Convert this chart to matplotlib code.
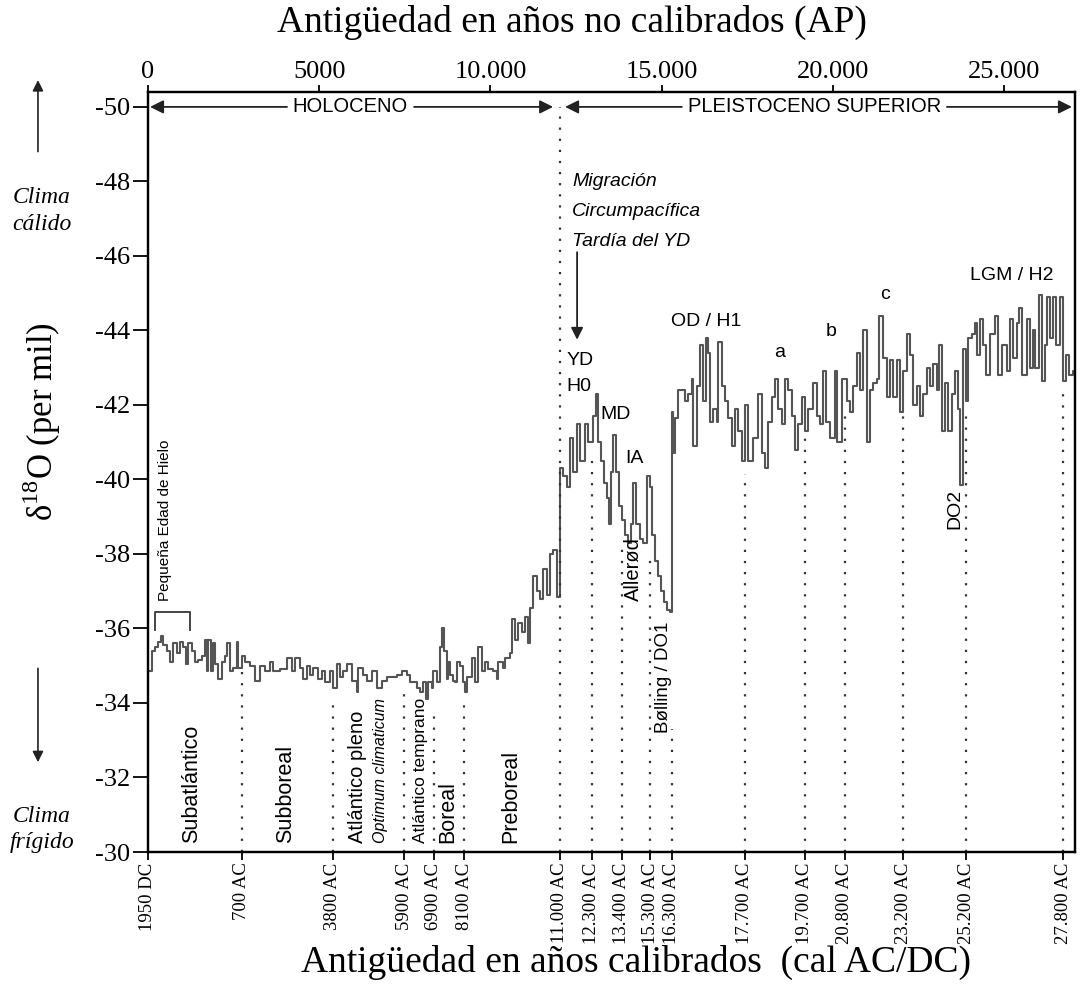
import matplotlib.pyplot as plt
from matplotlib import transforms

plt.rcParams['font.family'] = ['Liberation Serif', 'DejaVu Serif']
plt.rcParams['mathtext.fontset'] = 'custom'
plt.rcParams['mathtext.rm'] = 'Liberation Serif'
SANS = ['Liberation Sans', 'DejaVu Sans']

# serie d18O frente a edad en años no calibrados (AP)
age_ap = [0, 110, 200, 300, 370, 450, 550, 640, 740, 840, 930, 1030, 1100, 1180, 1280,
          1370, 1470, 1570, 1660, 1710, 1760, 1830, 1890, 1960, 2050, 2150, 2250, 2320,
          2390, 2490, 2590, 2640, 2740, 2830, 2980, 3120, 3270, 3420, 3560, 3660, 3850,
          4050, 4200, 4290, 4440, 4530, 4630, 4730, 4830, 4970, 5070, 5170, 5310, 5410,
          5510, 5610, 5700, 5800, 5950, 6090, 6140, 6290, 6390, 6530, 6680, 6820, 6970,
          7120, 7260, 7410, 7550, 7650, 7750, 7850, 7940, 8040, 8110, 8180, 8280, 8320,
          8440, 8530, 8580, 8640, 8730, 8760, 8820, 8910, 8960, 9020, 9110, 9200, 9260,
          9310, 9460, 9550, 9640, 9750, 9840, 9930, 10070, 10190, 10220, 10370, 10420,
          10570, 10630, 10720, 10800, 10920, 11010, 11100, 11150, 11240, 11360, 11450,
          11530, 11650, 11740, 11830, 11940, 12030, 12120, 12230, 12320, 12410, 12530,
          12610, 12760, 12850, 12990, 13080, 13140, 13230, 13320, 13400, 13460, 13520,
          13580, 13670, 13750, 13840, 13930, 14020, 14100, 14160, 14250, 14370, 14450,
          14570, 14660, 14720, 14800, 14890, 14980, 15070, 15150, 15240, 15300, 15330,
          15390, 15480, 15680, 15770, 15880, 15910, 16030, 16120, 16210, 16290, 16350,
          16410, 16500, 16610, 16640, 16760, 16850, 16940, 17050, 17140, 17230, 17340,
          17430, 17520, 17670, 17810, 17930, 18020, 18100, 18220, 18310, 18400, 18510,
          18600, 18690, 18800, 18890, 18980, 19100, 19180, 19270, 19420, 19530, 19620,
          19710, 19800, 19910, 20060, 20120, 20260, 20410, 20500, 20590, 20700, 20790,
          20880, 21000, 21080, 21170, 21290, 21350, 21460, 21580, 21670, 21750, 21870,
          21960, 22050, 22160, 22250, 22340, 22450, 22540, 22630, 22750, 22830, 22920,
          23040, 23100, 23180, 23270, 23360, 23480, 23560, 23650, 23710, 23800, 23890,
          23940, 24060, 24150, 24210, 24290, 24380, 24470, 24590, 24730, 24820, 24940,
          25080, 25170, 25260, 25370, 25430, 25520, 25670, 25750, 25840, 25900, 26020,
          26100, 26190, 26250, 26340, 26430, 26510, 26630, 26720, 26810, 26890, 27010,
          27070]
d18o = [-34.85, -35.4, -35.5, -35.65, -35.8, -35.55, -35.4, -35.1, -35.6, -35.35, -35.65,
        -35.5, -35.05, -35.6, -35.4, -35.1, -35.15, -35.25, -35.7, -34.85, -35.7, -34.85,
        -35.6, -35.05, -34.65, -35.1, -35.25, -35.6, -34.85, -34.95, -35.65, -34.95,
        -35.25, -35.1, -35.0, -34.6, -35.0, -34.85, -35.1, -34.85, -34.9, -35.2, -34.85,
        -35.2, -34.95, -34.65, -35.0, -34.75, -34.95, -34.65, -34.85, -34.55, -34.85,
        -34.4, -35.05, -34.7, -34.85, -35.05, -34.6, -34.3, -34.95, -34.75, -34.6, -34.85,
        -34.4, -34.6, -34.7, -34.7, -34.75, -34.85, -34.75, -34.55, -34.55, -34.4, -34.3,
        -34.55, -34.1, -34.55, -34.4, -34.85, -34.55, -35.5, -36.0, -35.4, -34.65, -35.1,
        -34.75, -34.6, -34.55, -35.1, -35.0, -34.55, -34.3, -34.7, -35.2, -34.55, -35.5,
        -34.85, -35.1, -34.9, -34.85, -34.65, -35.1, -34.95, -35.2, -35.35, -36.25, -35.7,
        -36.15, -35.9, -36.3, -35.6, -36.55, -37.4, -37.0, -36.8, -37.6, -36.9, -38.0,
        -38.1, -36.85, -40.3, -40.1, -39.8, -41.1, -40.2, -41.5, -40.5, -41.5, -41.0,
        -41.7, -42.3, -41.0, -40.5, -39.9, -39.5, -38.8, -40.2, -41.2, -40.2, -39.3,
        -38.9, -38.5, -38.3, -38.8, -39.9, -38.8, -38.4, -38.3, -40.1, -39.8, -38.5,
        -37.8, -37.4, -37.0, -36.7, -36.5, -36.45, -41.8, -40.7, -41.65, -42.4, -42.1,
        -42.3, -42.7, -40.9, -42.5, -43.6, -42.1, -43.8, -43.4, -41.55, -41.9, -41.55,
        -43.7, -42.5, -42.1, -41.65, -40.9, -41.9, -41.3, -40.5, -42.0, -40.5, -41.1,
        -42.3, -40.7, -40.3, -41.55, -42.2, -42.7, -41.9, -41.5, -42.7, -42.4, -41.7,
        -40.8, -41.5, -42.2, -41.3, -41.9, -42.6, -41.7, -41.5, -42.9, -41.55, -41.1,
        -42.9, -41.0, -42.7, -42.1, -41.8, -42.5, -43.4, -42.4, -44.0, -41.0, -42.4,
        -42.6, -42.7, -44.4, -43.25, -42.2, -43.2, -42.2, -43.2, -41.8, -42.9, -43.9,
        -43.35, -42.0, -42.5, -41.7, -42.3, -43.0, -42.5, -43.1, -42.4, -43.6, -41.3,
        -42.6, -41.3, -42.3, -42.9, -41.9, -39.85, -43.5, -42.1, -43.8, -43.9, -44.2,
        -43.35, -44.3, -43.6, -42.8, -43.9, -44.4, -42.8, -43.6, -42.9, -44.3, -43.25,
        -44.2, -44.6, -42.8, -44.3, -43.0, -44.0, -43.0, -44.95, -42.65, -43.6, -44.9,
        -43.8, -44.9, -43.6, -44.9, -42.65, -43.35, -42.8, -42.9, -42.65]

# marcas en años calibrados (posición en años AP)
cal_pos = [0, 2740, 5400, 7480, 8350, 9230, 12030, 12960, 13840, 14660, 15300,
           17430, 19180, 20350, 22050, 23890, 26720]
cal_labels = ['1950 DC', '700 AC', '3800 AC', '5900 AC', '6900 AC', '8100 AC',
              '11.000 AC', '12.300 AC', '13.400 AC', '15.300 AC', '16.300 AC',
              '17.700 AC', '19.700 AC', '20.800 AC', '23.200 AC', '25.200 AC',
              '27.800 AC']
cal_line_top = [None, -34.85, -33.95, -34.28, -33.86, -33.95, -50.0, -40.5, -38.3,
                -38.0, -33.3, -40.15, -41.1, -41.7, -41.7, -41.7, -42.3]

ap_ticks = [0, 5000, 10000, 15000, 20000, 25000]
ap_labels = ['0', '5000', '10.000', '15.000', '20.000', '25.000']

y_ticks = [-50, -48, -46, -44, -42, -40, -38, -36, -34, -32, -30]

# periodos (texto vertical al pie)
periods = [('Subatlántico', 1260, 15.5, 'normal'), ('Subboreal', 4030, 15.5, 'normal'),
           ('Atlántico pleno', 6130, 14.5, 'normal'), ('Optimum climaticum', 6800, 11.5, 'italic'),
           ('Atlántico temprano', 7970, 12.5, 'normal'), ('Boreal', 8760, 15.5, 'normal'),
           ('Preboreal', 10600, 15.5, 'normal')]

# eventos (texto horizontal)
events = [('YD', 12230, -43.2), ('H0', 12230, -42.5), ('MD', 13200, -41.75),
          ('IA', 13930, -40.55), ('OD / H1', 16290, -44.25), ('a', 18430, -43.4),
          ('b', 19940, -43.97), ('c', 21520, -44.96), ('LGM / H2', 25230, -45.47)]

fig = plt.figure(figsize=(10.85, 9.86), dpi=100)
ax = fig.add_axes([0.1364, 0.1359, 0.8544, 0.7708])

ax.step(age_ap, d18o, where='post', color='#555555', lw=1.5)

ax.set_xlim(0, 27070)
ax.set_ylim(-30, -50.4)
ax.set_yticks(y_ticks)
ax.set_yticklabels([str(v) for v in y_ticks], fontsize=19)
ax.tick_params(axis='y', direction='out', length=11, width=1.3, pad=2)
ax.set_xticks(cal_pos)
ax.set_xticklabels(cal_labels, rotation=90, fontsize=13.5)
ax.tick_params(axis='x', direction='out', length=6, width=1.3, pad=1.5)
for s in ax.spines.values():
    s.set_linewidth(1.6)

ax2 = ax.twiny()
ax2.set_xlim(ax.get_xlim())
ax2.set_xticks(ap_ticks)
ax2.set_xticklabels(ap_labels, fontsize=19)
ax2.tick_params(axis='x', direction='out', length=5, width=1.3, pad=1.5)
for s in ax2.spines.values():
    s.set_linewidth(1.6)

fig.text(572 / 1085, 1 - 22 / 986, 'Antigüedad en años no calibrados (AP)',
         ha='center', va='center', fontsize=27)
fig.text(636 / 1085, 1 - 962 / 986, 'Antigüedad en años calibrados  (cal AC/DC)',
         ha='center', va='center', fontsize=27)
fig.text(42 / 1085, 1 - 422 / 986, r'δ$^{18}$O (per mil)', rotation=90,
         ha='center', va='center', fontsize=25)

# lineas punteadas de las fechas calibradas
for pos, top in zip(cal_pos, cal_line_top):
    if top is None:
        continue
    ax.plot([pos, pos], [-30, top], ls=(0, (1, 4)), color='#333333', lw=1.6)

# Holoceno / Pleistoceno
arr = dict(arrowstyle='-|>', color='#222222', lw=1.3, mutation_scale=20,
           shrinkA=0, shrinkB=0)
ax.annotate('', xy=(60, -50), xytext=(4060, -50), arrowprops=arr)
ax.annotate('', xy=(11830, -50), xytext=(7770, -50), arrowprops=arr)
ax.text(5900, -50, 'HOLOCENO', ha='center', va='center', fontsize=14.5, family=SANS)
ax.annotate('', xy=(12180, -50), xytext=(15590, -50), arrowprops=arr)
ax.annotate('', xy=(26980, -50), xytext=(23330, -50), arrowprops=arr)
ax.text(19480, -50, 'PLEISTOCENO SUPERIOR', ha='center', va='center',
        fontsize=14.5, family=SANS)

for name, x, fs, st in periods:
    ax.text(x, -30.25, name, rotation=90, ha='center', va='bottom', fontsize=fs,
            style=st, family=SANS)

ax.text(14170, -36.75, 'Allerød', rotation=90, ha='center', va='bottom',
        fontsize=14.5, family=SANS)
ax.text(15040, -33.2, 'Bølling / DO1', rotation=90, ha='center', va='bottom',
        fontsize=13.5, family=SANS)
ax.text(23560, -39.75, 'DO2', rotation=90, ha='center', va='top',
        fontsize=14, family=SANS)

for lab, x, y in events:
    ha = 'left' if lab in ('YD', 'H0', 'MD', 'IA') else 'center'
    ax.text(x, y, lab, ha=ha, va='center', fontsize=14, family=SANS)

# Pequeña Edad de Hielo
ax.plot([200, 200, 1230, 1230], [-35.95, -36.45, -36.45, -35.95], color='#444444', lw=1.4)
ax.text(500, -36.75, 'Pequeña Edad de Hielo', rotation=90, ha='center', va='bottom',
        fontsize=11, family=SANS)

# migración
ax.text(12380, -47.2, 'Migración\nCircumpacífica\nTardía del YD', ha='left',
        va='center', fontsize=14, style='italic', family=SANS, linespacing=2.0)
ax.annotate('', xy=(12530, -43.75), xytext=(12530, -46.1),
            arrowprops=dict(arrowstyle='-|>', color='#222222', lw=1.3,
                            mutation_scale=18, shrinkA=0, shrinkB=0))

# clima cálido / frígido
tr = transforms.blended_transform_factory(ax.transAxes, ax.transData)
ax.annotate('', xy=(-0.1187, -50.72), xytext=(-0.1187, -48.8), xycoords=tr,
            textcoords=tr, annotation_clip=False,
            arrowprops=dict(arrowstyle='-|>', color='#222222', lw=1.2,
                            mutation_scale=16, shrinkA=0, shrinkB=0))
ax.annotate('', xy=(-0.1187, -32.41), xytext=(-0.1187, -34.93), xycoords=tr,
            textcoords=tr, annotation_clip=False,
            arrowprops=dict(arrowstyle='-|>', color='#222222', lw=1.2,
                            mutation_scale=16, shrinkA=0, shrinkB=0))
ax.text(-0.1143, -47.2, 'Clima\ncálido', transform=tr, ha='center', va='center',
        fontsize=17, style='italic', linespacing=1.35)
ax.text(-0.1143, -30.6, 'Clima\nfrígido', transform=tr, ha='center', va='center',
        fontsize=17, style='italic', linespacing=1.35)

fig.savefig('out.png', dpi=100)
